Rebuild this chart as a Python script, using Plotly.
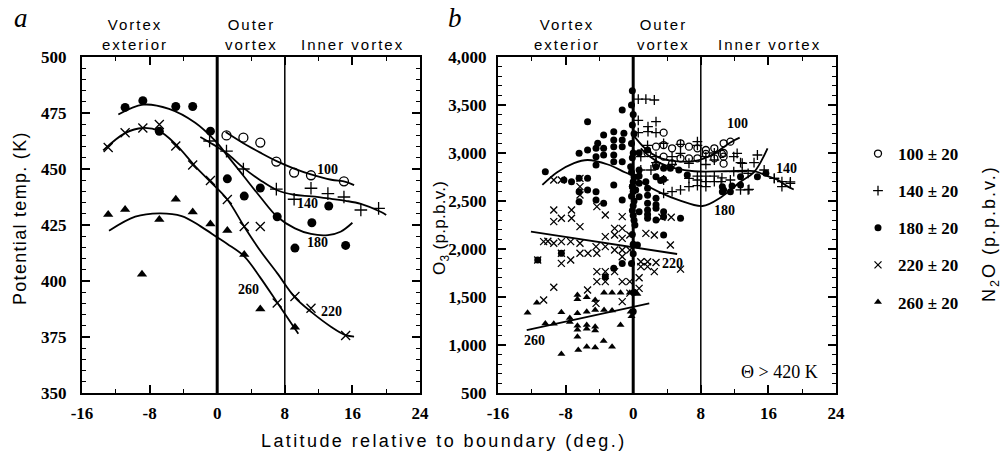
import plotly.graph_objects as go

# ---- panel a : potential temperature vs latitude, grouped by N2O ----
a_x_100 = [1.1, 3.1, 5.1, 7.0, 9.1, 11.1, 15.0]
a_y_100 = [465, 464, 461.8, 453.3, 448.4, 447.2, 444.5]
a_x_140 = [-0.9, 1.1, 3.1, 7.0, 9.1, 11.1, 13.1, 15.0, 17.0, 19.1]
a_y_140 = [462.5, 458, 450, 441, 436.5, 441.4, 439, 437.5, 431.7, 432.4]
a_x_180 = [-10.9, -8.8, -6.85, -4.9, -2.9, -0.8, 1.2, 3.2, 5.1, 7.1, 9.2, 11.2, 13.2, 15.2]
a_y_180 = [477.5, 480.5, 466.8, 477.9, 477.9, 466.9, 445.6, 437.9, 441.5, 428.7, 414.7, 426, 433.5, 415.9]
a_x_220 = [-12.9, -10.9, -8.8, -6.85, -4.9, -2.9, -0.8, 1.2, 3.2, 5.1, 7.1, 9.2, 11.1, 15.2]
a_y_220 = [459.6, 466.2, 468.3, 469.9, 460.3, 451.8, 444.9, 436.4, 424.3, 424.3, 390.2, 393.1, 387.8, 375.7]
a_x_260 = [-12.9, -10.9, -8.9, -6.85, -4.9, -2.9, -0.8, 1.2, 3.2, 5.1, 9.2]
a_y_260 = [429.7, 431.9, 403, 427.5, 436.5, 430.8, 425.5, 422.5, 411.8, 387.5, 379.4]

# fitted curves
ca_x_100 = [1.0, 3.1, 5.1, 7.1, 9.1, 11.1, 13.5, 15.2, 16.2]
ca_y_100 = [466.5, 461.5, 457.3, 453.4, 450.2, 447.6, 445.2, 444.3, 442.8]
ca_x_140 = [-2.0, -0.5, 1.2, 3.1, 5.1, 7.1, 9.1, 11.2, 13.5, 15.2, 17.0, 19.4, 20.0]
ca_y_140 = [464.3, 461, 456.8, 450.5, 445, 440.5, 438.5, 437.8, 436.7, 435.8, 434.4, 430.8, 429.5]
ca_x_180 = [-11.7, -8.8, -5.7, -2.6, -0.2, 1.2, 3.1, 5.1, 7.1, 9.2, 11.1, 13.1, 14.6, 16.0]
ca_y_180 = [474.3, 478.7, 476.8, 470.6, 462.4, 456, 447, 437.5, 428.7, 423.5, 421, 420.5, 422, 426]
ca_x_220 = [-13.5, -10.9, -8.8, -6.85, -4.9, -2.6, -1.0, 1.2, 3.2, 5.1, 7.1, 9.2, 11.2, 13.5, 15.2, 16.2]
ca_y_220 = [458.3, 466, 468.3, 466.9, 461, 451.2, 445, 436.4, 424.3, 413.5, 403.5, 392.7, 386, 379.5, 375.8, 375.2]
ca_x_260 = [-12.8, -9.7, -6.85, -4.2, -2.0, 0, 1.2, 3.2, 5.1, 7.1, 9.2, 9.6]
ca_y_260 = [422.4, 428.7, 430.2, 429, 424.5, 419.5, 416.5, 411, 401.5, 390.4, 378.7, 376.5]

a_lbl_text = ["100", "140", "180", "220", "260"]
a_lbl_x = [13.0, 10.7, 11.9, 13.5, 3.75]
a_lbl_y = [449.7, 434.6, 417.2, 386.5, 396.3]

# ---- panel b : O3 vs latitude ----
b_x_100 = [3.6, 2.7, 3.6, 4.6, 5.6, 6.6, 7.6, 8.6, 9.6, 10.7, 11.5, 10.7, 10.7, 7.6, 5.6, 3.6,
           2.7, 4.6, 6.6, 9.6, 10.5, 1.7, 8.6, 10.7]
b_y_100 = [3212, 3066, 3083, 3049, 3101, 3066, 3049, 3031, 3049, 3101, 3118, 2962, 2889, 2945, 2945, 2962,
           2875, 2892, 2944, 2944, 2990, 3000, 2990, 3000]
b_x_140 = [0.6, 1.5, 2.5, 0.6, 2.7, 1.75, 1.75, 0.6, 2.7,
           0.9, 2.7, 4.6, 5.6, 6.6, 7.6, 8.6, 9.6, 11.9, 12.9, 14.7, 0.9, 2.1, 1.7, 3.6, 5.6, 7.6, 9.6, 2.7, 4.6, 8.6,
           6.6, 7.6, 8.6, 9.6, 10.4, 11.9, 12.9, 13.6, 15.5, 16.7, 17.6, 18.6, 12.7, 13.6, 11.5, 4.6, 3.6, 5.6, 3.6,
           7.6, 8.6, 9.6, 10.5, 6.6, 7.6, 8.6, 12.3, 12.7, 14.3, 16.7, 17.6, 18.6, 13.7]
b_y_140 = [3562, 3562, 3552, 3340, 3326, 3274, 3222, 3212, 3212,
           2962, 2962, 2962, 2997, 2893, 3118, 2962, 2927, 2962, 2893, 2979, 2823, 2823, 3080, 3100, 3090, 3080, 3000, 2900, 2880, 2880,
           2736, 2719, 2701, 2701, 2701, 2805, 2805, 2788, 2823, 2736, 2701, 2684, 2615, 2615, 2719, 2597, 2580, 2615, 2719,
           2760, 2760, 2760, 2740, 2650, 2660, 2650, 2997, 2899, 2899, 2736, 2650, 2700, 2622]
b_x_180 = [-0.1, -1.3, -5.4, -2.3, -1.1, -0.1, -3.5, -1.3, -2.3, -4.2, -3.5, -2.3, -1.3, -6.4, -5.4, -4.4,
           -4.4, -3.5, -2.3, -2.3, -1.3, -4.4, -0.3, -10.4, -8.2, -6.4, -5.4, -5.4, -6.4, -6.4, -4.4, -4.4,
           -3.5, -2.3, -1.3, -0.1, -7.3, -11.3, -8.5, -3.3, -2.3, -1.3,
           -0.2, 0.0, -0.2, 0.0, -0.2, 0.0, 0.0, -0.2, 0.0, 0.0, 0.2, 0.0, 0.0, -0.2, 0.1, 0.0,
           0.1, -0.1, 0.1, -0.1, 0.1, -0.1, 0.1, -0.1,
           0.7, 1.7, 0.7, 0.7, 0.3, 0.7, 2.7, 3.6, 1.7, 2.7, 1.7, 1.7, 2.7, 3.6, 0.7, 1.7, 2.7, 3.6,
           5.6, 3.6, 0.5, 3.25, 1.5, 4.4, 5.4, 6.4, 2.7, 3.6, 0.7, 1.7, 1.7, 2.7,
           10.55, 10.55, 11.5, 12.7, 14.7, 15.7, 12.7, 11.7, 10.7]
b_y_180 = [3649, 3448, 3326, 3222, 3205, 3292, 3188, 3136, 3136, 3101, 3049, 3066, 3066, 2997, 3031, 3049,
           2962, 2979, 2979, 2910, 2910, 2875, 2858, 2805, 2719, 2736, 2736, 2615, 2597, 2493, 2597, 2510,
           2476, 2667, 2510, 2650, 2700, 1885, 1955, 1712, 1800, 1850,
           3500, 3400, 3100, 3000, 2800, 2700, 2600, 2550, 2450, 2350, 2250, 2050, 1950, 1850, 1550, 1350,
           3200, 2950, 2750, 2650, 2500, 2400, 2300, 2150,
           3003, 3031, 2823, 2684, 2615, 2545, 2753, 2726, 2632, 2528, 2476, 2406, 2424, 2389, 2389, 2320, 2302, 2337,
           2320, 2146, 2042, 2714, 2701, 2840, 2823, 2771, 2858, 2840, 2760, 2560, 2360, 2460,
           2649, 2597, 2597, 2667, 2753, 2788, 2753, 2656, 2615]
b_x_220 = [-9.4, -8.5, -6.3, -6.3, -6.3, -9.4, -9.4, -8.5, -7.3, -7.3, -6.3, -4.3, -3.3, -1.3, -2.2, -1.3,
           -10.6, -9.4, -8.5, -7.4, -6.3, -4.4, -3.3, -2.2, -1.3, -0.4, -8.5, -7.4, -6.3, -5.35, -4.3, -3.3,
           -2.2, -1.3, -1.3, -0.4, -4.3, -3.3, -2.2, -4.3, -3.3, -5.4, -1.3, -0.4, -9.4, -10.6, -4.4, -1.3,
           -11.3, -8.5, -10.1,
           1.5, 2.5, 4.4, 2.5, 0.9, 1.7, 0.9, 1.7, 3.4, 4.5, 0.7, -0.4, 0.7, 2.7, 5.6]
b_y_220 = [2719, 2719, 2736, 2650, 2562, 2406, 2285, 2320, 2406, 2320, 2233, 2441, 2354, 2337, 2215, 2215,
           2077, 2060, 2077, 2077, 2060, 2025, 2129, 2146, 2111, 2146, 1850, 1885, 1955, 1955, 1955, 2025,
           1990, 1990, 1920, 1990, 1764, 1764, 1764, 1660, 1660, 1573, 1660, 1660, 1601, 1469, 1434, 1452,
           1885, 1955, 2080,
           2163, 2146, 2042, 1764, 1868, 1868, 1816, 1816, 2330, 2330, 1590, 1540, 1700, 1860, 1790]
b_x_260 = [-12.5, -11.4, -10.4, -9.4, -8.5, -8.5, -6.6, -6.6, -6.6, -6.6, -6.6, -6.6, -6.5, -5.5, -5.5,
           -5.5, -5.5, -5.5, -4.5, -4.5, -4.5, -4.5, -4.5, -3.45, -3.45, -3.5, -2.5, -2.5, -2.5, -1.5, -1.5,
           -0.4, -0.3, 0.5, -0.2, -7.5, -7.5]
b_y_260 = [1335, 1440, 1225, 1222, 1340, 905, 1476, 1520, 1330, 1200, 1160, 1085, 948, 1497, 1347,
           1208, 1170, 983, 1470, 1365, 1190, 1150, 975, 1545, 1365, 1042, 1545, 1360, 983, 1545, 1208,
           1545, 1347, 1531, 1300, 1240, 1280]

cb_x_100 = [-0.2, 1.5, 3.0, 5.0, 7.5, 9.5, 11.5, 12.6]
cb_y_100 = [3210, 3040, 2955, 2915, 2920, 2990, 3110, 3160]
cb_x_140 = [0.9, 2.0, 3.25, 5.0, 7.2, 11.0, 14.3, 15.9, 17.1, 18.3, 19.0]
cb_y_140 = [3049, 2960, 2892, 2840, 2810, 2810, 2812, 2760, 2720, 2650, 2620]
cb_x_180 = [-10.75, -9, -7, -5.4, -3, -1, 0, 1.5, 3.4, 5.4, 8.2, 10.4, 12.7, 14.3, 15.9]
cb_y_180 = [2667, 2800, 2895, 2927, 2880, 2800, 2760, 2667, 2580, 2510, 2448, 2540, 2700, 2800, 3049]
cb_x_220 = [-12.1, 5.2]
cb_y_220 = [2180, 1948]
cb_x_260 = [-12.6, 1.9]
cb_y_260 = [1156, 1434]

b_lbl_text = ["100", "140", "180", "220", "260"]
b_lbl_x = [12.3, 18.2, 10.75, 4.6, -11.7]
b_lbl_y = [3310, 2840, 2399, 1851, 1045]

boundaries = [0, 8]
boundary_widths = [3, 1.5]

x_ticks = [-16, -8, 0, 8, 16, 24]
x_tick_text = ["-16", "-8", "0", "8", "16", "24"]
a_y_ticks = [350, 375, 400, 425, 450, 475, 500]
b_y_ticks = [500, 1000, 1500, 2000, 2500, 3000, 3500, 4000]
b_y_tick_text = ["500", "1,000", "1,500", "2,000", "2,500", "3,000", "3,500", "4,000"]

groups = ["100 ± 20", "140 ± 20", "180 ± 20", "220 ± 20", "260 ± 20"]
symbols = ["circle-open", "cross-thin", "circle", "x-thin", "triangle-up"]

SERIF = "Liberation Serif"
SANS = "Liberation Sans"

fig = go.Figure()

a_pts = [(a_x_100, a_y_100), (a_x_140, a_y_140), (a_x_180, a_y_180), (a_x_220, a_y_220), (a_x_260, a_y_260)]
a_curves = [(ca_x_100, ca_y_100), (ca_x_140, ca_y_140), (ca_x_180, ca_y_180), (ca_x_220, ca_y_220), (ca_x_260, ca_y_260)]
b_pts = [(b_x_100, b_y_100), (b_x_140, b_y_140), (b_x_180, b_y_180), (b_x_220, b_y_220), (b_x_260, b_y_260)]
b_curves = [(cb_x_100, cb_y_100), (cb_x_140, cb_y_140), (cb_x_180, cb_y_180), (cb_x_220, cb_y_220), (cb_x_260, cb_y_260)]


def marker(sym, size):
    m = dict(symbol=sym, size=size, color="black", line=dict(color="black", width=1.3))
    if sym == "circle" or sym == "triangle-up":
        m["line"]["width"] = 0
    return m


for i in range(5):
    cx, cy = a_curves[i]
    fig.add_trace(go.Scatter(x=cx, y=cy, mode="lines", line=dict(color="black", width=1.8, shape="spline"),
                             xaxis="x", yaxis="y", showlegend=False, hoverinfo="skip"))
    cx, cy = b_curves[i]
    fig.add_trace(go.Scatter(x=cx, y=cy, mode="lines", line=dict(color="black", width=1.8, shape="spline"),
                             xaxis="x2", yaxis="y2", showlegend=False, hoverinfo="skip"))

for i in range(5):
    px, py = a_pts[i]
    fig.add_trace(go.Scatter(x=px, y=py, mode="markers", marker=marker(symbols[i], 9),
                             xaxis="x", yaxis="y", showlegend=False))
    px, py = b_pts[i]
    fig.add_trace(go.Scatter(x=px, y=py, mode="markers", marker=marker(symbols[i], 7),
                             xaxis="x2", yaxis="y2", name=groups[i], legendgroup=groups[i]))

axis_common = dict(showline=True, linecolor="black", linewidth=2, mirror="ticks", ticks="inside",
                   ticklen=8, tickwidth=1.5, tickcolor="black", showgrid=False, zeroline=False,
                   automargin=False,
                   tickfont=dict(family=SERIF, size=17, color="black", weight="bold"))

fig.update_layout(
    width=1006, height=453, margin=dict(l=0, r=0, t=0, b=0, autoexpand=False),
    paper_bgcolor="white", plot_bgcolor="white",
    xaxis=dict(domain=[82 / 1006, 420 / 1006], range=[-16, 24], tickvals=x_ticks, ticktext=x_tick_text,
               minor=dict(ticks="inside", ticklen=4, dtick=4, tickcolor="black", tickwidth=1),
               anchor="y", ticklabelstandoff=4, **axis_common),
    yaxis=dict(domain=[1 - 393 / 453, 1 - 57 / 453], range=[350, 500], tickvals=a_y_ticks,
               minor=dict(ticks="inside", ticklen=4, dtick=5, tickcolor="black", tickwidth=1),
               anchor="x", ticklabelstandoff=10, **axis_common),
    xaxis2=dict(domain=[498 / 1006, 836 / 1006], range=[-16, 24], tickvals=x_ticks, ticktext=x_tick_text,
                minor=dict(ticks="inside", ticklen=4, dtick=4, tickcolor="black", tickwidth=1),
                anchor="y2", ticklabelstandoff=4, **axis_common),
    yaxis2=dict(domain=[1 - 393 / 453, 1 - 57 / 453], range=[500, 4000], tickvals=b_y_ticks,
                ticktext=b_y_tick_text,
                minor=dict(ticks="inside", ticklen=4, dtick=100, tickcolor="black", tickwidth=1),
                anchor="x2", ticklabelstandoff=6, **axis_common),
    legend=dict(x=858 / 1006, y=1 - 136 / 453, xanchor="left", yanchor="top", tracegroupgap=12,
                font=dict(family=SERIF, size=17, color="black", weight="bold"), bgcolor="rgba(0,0,0,0)"),
    showlegend=True,
)

for ax, ya in (("x", "y"), ("x2", "y2")):
    for b, w in zip(boundaries, boundary_widths):
        fig.add_shape(type="line", xref=ax, yref=ya + " domain", x0=b, x1=b, y0=0, y1=1,
                      line=dict(color="black", width=w))

for t, x, y in zip(a_lbl_text, a_lbl_x, a_lbl_y):
    fig.add_annotation(x=x, y=y, xref="x", yref="y", text=t, showarrow=False,
                       font=dict(family=SERIF, size=14, color="black", weight="bold"))
for t, x, y in zip(b_lbl_text, b_lbl_x, b_lbl_y):
    fig.add_annotation(x=x, y=y, xref="x2", yref="y2", text=t, showarrow=False,
                       font=dict(family=SERIF, size=14, color="black", weight="bold"))


def spaced(text, sp):
    return "<br>".join('<span style="letter-spacing:%spx">%s</span>' % (sp, line) for line in text.split("\n"))


def ptext(text, px, py, size=15, family=SANS, angle=0):
    fig.add_annotation(x=px / 1006, y=1 - py / 453, xref="paper", yref="paper", text=text,
                       showarrow=False, textangle=angle, xanchor="center", yanchor="middle",
                       font=dict(family=family, size=size, color="black"))


ptext(spaced("Vortex\nexterior", 2), 135, 35)
ptext(spaced("Outer\nvortex", 2), 252, 35)
ptext(spaced("Inner vortex", 2), 352, 45)
ptext(spaced("Vortex\nexterior", 2), 567, 35)
ptext(spaced("Outer\nvortex", 2), 663, 35)
ptext(spaced("Inner vortex", 2), 769, 45)
ptext("<i>a</i>", 21, 18, size=27, family=SERIF)
ptext("<i>b</i>", 455, 18, size=27, family=SERIF)
ptext(spaced("Potential temp. (K)", 1.3), 20, 218, size=18, angle=-90)
ptext('<span style="letter-spacing:0.3px">O<sub>3</sub> (p.p.b.v.)</span>', 441, 228, size=17, angle=-90)
ptext('<span style="letter-spacing:2px">N<sub>2</sub>O (p.p.b.v.)</span>', 990, 234, size=18, angle=-90)
ptext(spaced("Latitude relative to boundary (deg.)", 2.4), 444, 441, size=18)
ptext("Θ > 420 K", 779, 372, size=18, family=SERIF)

# page body margin would shift the whole figure
fig.write_html("out.html", config={"displayModeBar": False},
               post_script="document.body.style.margin='0px';")
